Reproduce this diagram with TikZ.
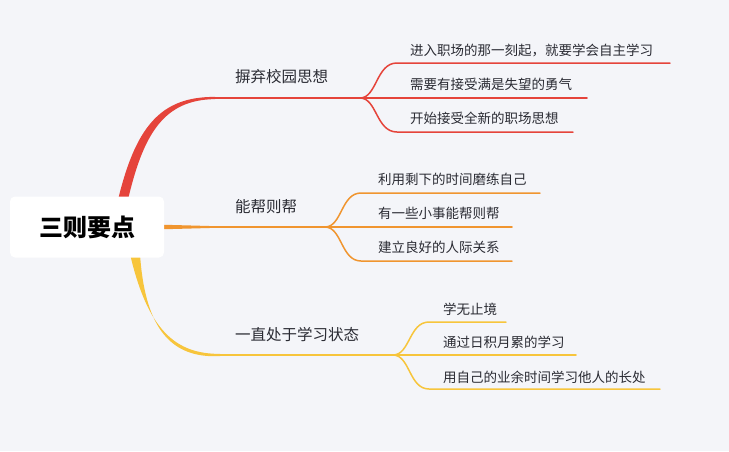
\documentclass[tikz,border=0pt]{standalone}
\usepackage{fontspec}
\setmainfont{Noto Sans CJK SC}
\definecolor{bg}{HTML}{F4F5F9}
\definecolor{cred}{HTML}{E5443B}
\definecolor{corange}{HTML}{F0952F}
\definecolor{cyellow}{HTML}{F7C53C}
\definecolor{txt}{HTML}{2A2B33}
\tikzset{
  rootbox/.style={fill=white,rounded corners=5pt,minimum width=154pt,minimum height=61pt,inner sep=0pt,font=\fontsize{24}{26}\selectfont\bfseries,text=black},
  topic/.style={anchor=west,inner sep=0pt,font=\fontsize{15.5}{17}\selectfont,text=txt},
  leaf/.style={anchor=west,inner sep=0pt,font=\fontsize{13.5}{15}\selectfont,text=txt},
  subline/.style={line width=1.5pt,line cap=round},
}
\begin{document}
\begin{tikzpicture}[x=1pt,y=-1pt]
\fill[bg] (0,0) rectangle (729,451);
\useasboundingbox (0,0) rectangle (729,451);

% coordinates
\coordinate (rA) at (215,98);
\coordinate (rB) at (360,98);
\coordinate (oA) at (213,227);
\coordinate (oB) at (325,227);
\coordinate (yA) at (220,355);
\coordinate (yB) at (393,355);

% tapered main branches
\fill[cred] (117,204) .. controls (135,127) and (160,96.6) .. (rA|-0,96.9) -- (rA|-0,99.1) .. controls (164,99.8) and (143,133) .. (127,204) -- cycle;
\fill[corange] (158,224.6) -- (oA|-0,226.1) -- (oA|-0,227.9) -- (158,229.4) -- cycle;
\fill[cyellow] (130,254) .. controls (148,331) and (176,354.0) .. (yA|-0,353.9) -- (yA|-0,356.1) .. controls (172,358.5) and (145,330) .. (140,254) -- cycle;

% root
\node[rootbox] (root) at (87,227) {三则要点};

% horizontal trunks
\draw[cred,subline] (rA) -- (rB);
\draw[corange,subline] (oA) -- (oB);
\draw[cyellow,subline] (yA) -- (yB);

% topic labels
\node[topic] (t1) at (235,77) {摒弃校园思想};
\node[topic] (t2) at (235,207) {能帮则帮};
\node[topic] (t3) at (235,335) {一直处于学习状态};

% red leaves
\coordinate (r1) at (670,63);
\coordinate (r2) at (587,98);
\coordinate (r3) at (573,132);
\draw[cred,subline] (rB) .. controls (377,98) and (376,63) .. (397,63) -- (r1);
\draw[cred,subline] (rB) -- (r2);
\draw[cred,subline] (rB) .. controls (377,98) and (376,132) .. (397,132) -- (r3);
\node[leaf] (l11) at (410,50) {进入职场的那一刻起，就要学会自主学习};
\node[leaf] (l12) at (410,84) {需要有接受满是失望的勇气};
\node[leaf] (l13) at (410,118) {开始接受全新的职场思想};

% orange leaves
\coordinate (o1) at (540,193);
\coordinate (o2) at (512,227);
\coordinate (o3) at (512,261);
\draw[corange,subline] (oB) .. controls (342,227) and (341,193) .. (361,193) -- (o1);
\draw[corange,subline] (oB) -- (o2);
\draw[corange,subline] (oB) .. controls (342,227) and (341,261) .. (361,261) -- (o3);
\node[leaf] (l21) at (378,179) {利用剩下的时间磨练自己};
\node[leaf] (l22) at (378,213) {有一些小事能帮则帮};
\node[leaf] (l23) at (378,247) {建立良好的人际关系};

% yellow leaves
\coordinate (y1) at (506,322);
\coordinate (y2) at (576,355);
\coordinate (y3) at (660,389);
\draw[cyellow,subline] (yB) .. controls (410,355) and (409,322) .. (429,322) -- (y1);
\draw[cyellow,subline] (yB) -- (y2);
\draw[cyellow,subline] (yB) .. controls (410,355) and (409,389) .. (429,389) -- (y3);
\node[leaf] (l31) at (443,309) {学无止境};
\node[leaf] (l32) at (443,342) {通过日积月累的学习};
\node[leaf] (l33) at (443,377) {用自己的业余时间学习他人的长处};
\end{tikzpicture}
\end{document}
